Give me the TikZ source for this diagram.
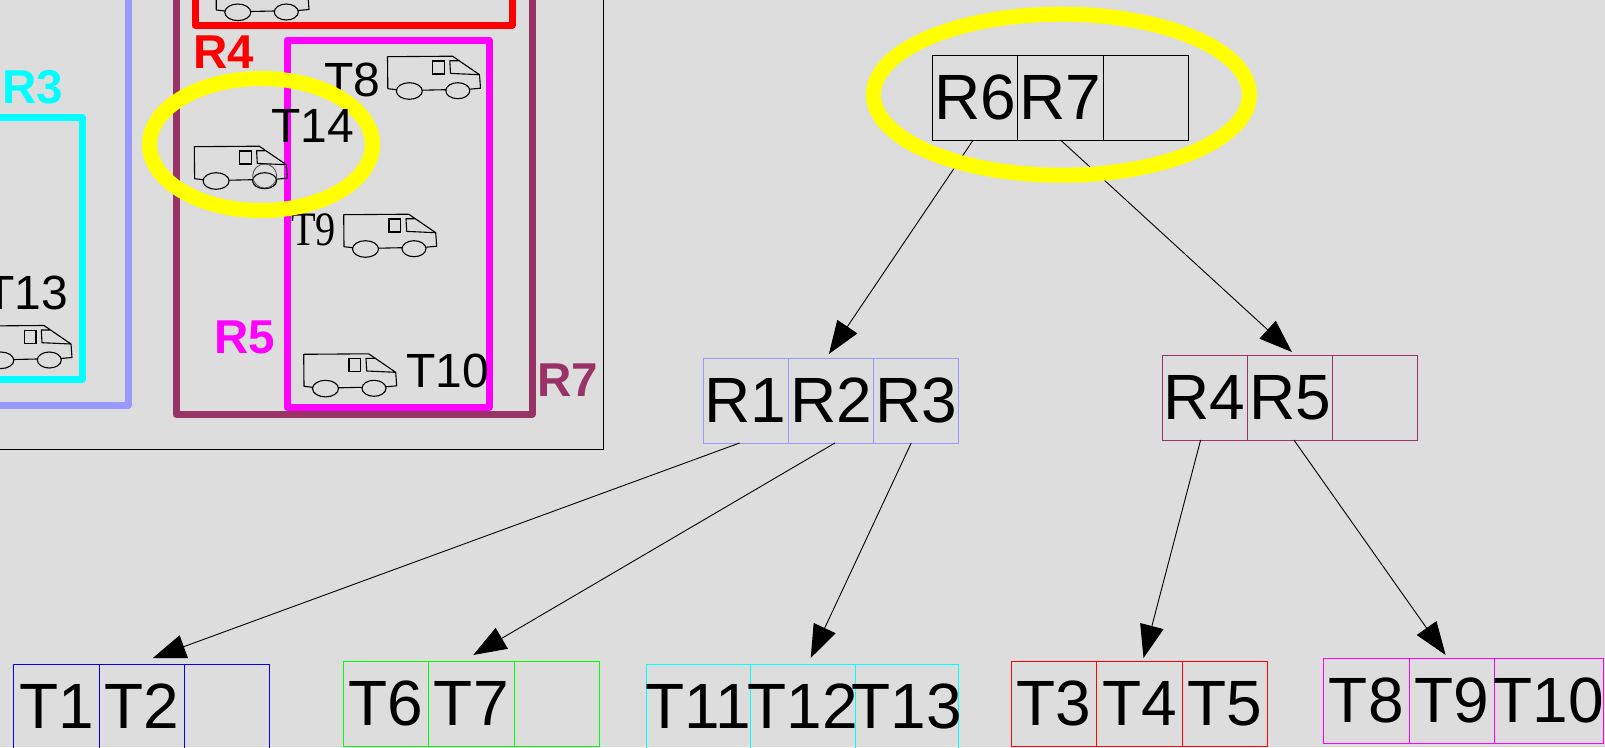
\documentclass[tikz,border=0pt]{standalone}
\usepackage{fontspec}
\setmainfont{Liberation Sans}
\newfontfamily\serifT[FakeStretch=0.84]{Liberation Serif}
\usetikzlibrary{arrows.meta}
\definecolor{bgc}{RGB}{221,221,221}
\definecolor{lav}{RGB}{153,153,255}
\definecolor{plum}{RGB}{153,51,102}
\definecolor{yel}{RGB}{255,255,0}
\definecolor{cyn}{RGB}{0,255,255}
\definecolor{mag}{RGB}{255,0,255}
\definecolor{blu}{RGB}{0,0,255}
\definecolor{grn}{RGB}{0,255,0}
\definecolor{rd}{RGB}{255,0,0}
\newcommand{\cellt}[1]{\makebox[0pt][c]{#1}}
\tikzset{
  cellbox/.style={draw=#1,line width=0.9pt,minimum height=85pt,inner sep=0pt,outer sep=0pt,
    font=\fontsize{64}{64}\selectfont,anchor=center},
  thick rect/.style={draw=#1,line width=7pt,line join=round},
  reglabel/.style={text=#1,font=\fontsize{47.5}{47.5}\selectfont\bfseries,inner sep=0pt,anchor=base west},
  tlabel/.style={font=\fontsize{48}{48}\selectfont,inner sep=0pt,anchor=base west,text=black},
  treearrow/.style={draw=black,line width=0.9pt,-{Triangle[length=33pt,width=24pt]}},
  ring/.style={draw=yel,line width=#1},
  truck/.pic={
    \draw[black,line width=1.1pt,line join=round]
      (9,33) -- (0.3,32) -- (0,0) -- (65,-0.5) -- (92,18) -- (93,31.5) -- (82,32.5)
      (34.5,33.5) -- (58.5,33)
      (71,4) -- (62.3,4) -- (63,16.7) -- (92,18);
    \draw[black,line width=1.1pt] (45.3,4.3) rectangle (57,17.3);
    \draw[black,line width=1.1pt] (21.8,34.3) ellipse [x radius=13,y radius=8.3];
    \draw[black,line width=1.1pt] (70.3,34) ellipse [x radius=12,y radius=8];
  }
}
\begin{document}
\begin{tikzpicture}[x=1pt,y=-1pt]
\useasboundingbox (0,0) rectangle (1605,747);
\fill[bgc] (0,0) rectangle (1605,747);
\clip (0,0) rectangle (1605,747);
% left panel
\draw[black,line width=1pt] (-10,-10) rectangle (603,449);
\draw[thick rect=lav] (-20,-20) rectangle (128.5,405);
\draw[thick rect=cyn] (-20,117) rectangle (82,379);
\draw[thick rect=plum] (176,-20) rectangle (532,414);
\draw[thick rect=rd] (195,-20) rectangle (512,25);
\draw[thick rect=mag] (287,40) rectangle (489,407);
\node[reglabel=cyn] (lR3) at (2,103) {R3};
\node[reglabel=rd] (lR4) at (193,68) {R4};
\node[reglabel=mag] (lR5) at (214,353) {R5};
\node[reglabel=plum] (lR7) at (537,396) {R7};
\pic at (216,-22) {truck};
\pic at (-21,326) {truck};
\pic at (387.5,56.7) {truck};
\pic at (343.7,214.7) {truck};
\pic at (303.7,354.3) {truck};
\node[tlabel] (lT13) at (-15,309) {T13};
\node[tlabel] (lT8) at (324,96) {T8};
\node[tlabel,font=\fontsize{48}{48}\selectfont\serifT] (lT9) at (291,245) {T9};
\node[tlabel] (lT10) at (406,387) {T10};
% tree cells
\node[cellbox=black,minimum width=85.3pt] (r6) at (975.2,97.5) {\cellt{R6}};
\node[cellbox=black,minimum width=85.3pt] (r7) at (1060.5,97.5) {\cellt{R7}};
\node[cellbox=black,minimum width=85.3pt] (re) at (1145.8,97.5) {};
\node[cellbox=lav,minimum width=85.3pt] (r1) at (745.6,400.5) {\cellt{R1}};
\node[cellbox=lav,minimum width=85.3pt] (r2) at (830.9,400.5) {\cellt{R2}};
\node[cellbox=lav,minimum width=85.3pt] (r3) at (916.2,400.5) {\cellt{R3}};
\node[cellbox=plum,minimum width=85.3pt] (r4) at (1204.6,397.5) {\cellt{R4}};
\node[cellbox=plum,minimum width=85.3pt] (r5) at (1289.9,397.5) {\cellt{R5}};
\node[cellbox=plum,minimum width=85.3pt] (rf) at (1375.2,397.5) {};
\node[cellbox=blu,minimum width=85.3pt] (t1) at (56.5,706.5) {\cellt{T1}};
\node[cellbox=blu,minimum width=85.3pt] (t2) at (141.8,706.5) {\cellt{T2}};
\node[cellbox=blu,minimum width=85.3pt] (te) at (227.1,706.5) {};
\node[cellbox=grn,minimum width=85.3pt] (t6) at (386,703.5) {\cellt{T6}};
\node[cellbox=grn,minimum width=85.3pt] (t7) at (471.3,703.5) {\cellt{T7}};
\node[cellbox=grn,minimum width=85.3pt] (tg) at (556.6,703.5) {};
\node[cellbox=cyn,minimum width=104pt] (t11) at (698.2,706.5) {\cellt{T11}};
\node[cellbox=cyn,minimum width=105pt] (t12) at (802.7,706.5) {\cellt{T12}};
\node[cellbox=cyn,minimum width=103pt] (t13) at (907,706.5) {\cellt{T13}};
\node[cellbox=rd,minimum width=85.3pt] (t3) at (1054.2,703.5) {\cellt{T3}};
\node[cellbox=rd,minimum width=85.3pt] (t4) at (1139.5,703.5) {\cellt{T4}};
\node[cellbox=rd,minimum width=85.3pt] (t5) at (1224.8,703.5) {\cellt{T5}};
\node[cellbox=mag,minimum width=85.3pt] (t8) at (1366.3,700.5) {\cellt{T8}};
\node[cellbox=mag,minimum width=85.3pt] (t9) at (1451.6,700.5) {\cellt{T9}};
\node[cellbox=mag,minimum width=108.5pt] (t10) at (1548.8,700.5) {\cellt{T10}};
% connectors
\draw[treearrow] ([xshift=-2pt]r6.south) -- ([xshift=-2pt,yshift=4pt]r2.north);
\draw[treearrow] (r7.south) -- ([xshift=2pt,yshift=3pt]r5.north);
\draw[treearrow] ([xshift=-6pt]r1.south) -- ([xshift=11pt,yshift=6pt]t2.north);
\draw[treearrow] ([xshift=4pt]r2.south) -- ([xshift=2pt,yshift=6pt]t7.north);
\draw[treearrow] ([xshift=-5pt]r3.south) -- ([xshift=8pt,yshift=6pt]t12.north);
\draw[treearrow] ([xshift=-4pt]r4.south) -- ([xshift=4pt,yshift=3pt]t4.north);
\draw[treearrow] ([xshift=4pt]r5.south) -- ([xshift=-6pt,yshift=3pt]t9.north);
% highlight rings
\draw[ring=15pt] (261,144.5) ellipse [x radius=111.5,y radius=66];
\draw[ring=15pt] (1061.4,94.7) ellipse [x radius=188,y radius=80.5];
\pic at (194.3,146.7) {truck};
\draw[black!70,line width=0.8pt] (264.7,176) ellipse [x radius=12,y radius=12];
\node[tlabel] (lT14) at (271,142) {T14};
\end{tikzpicture}
\end{document}
